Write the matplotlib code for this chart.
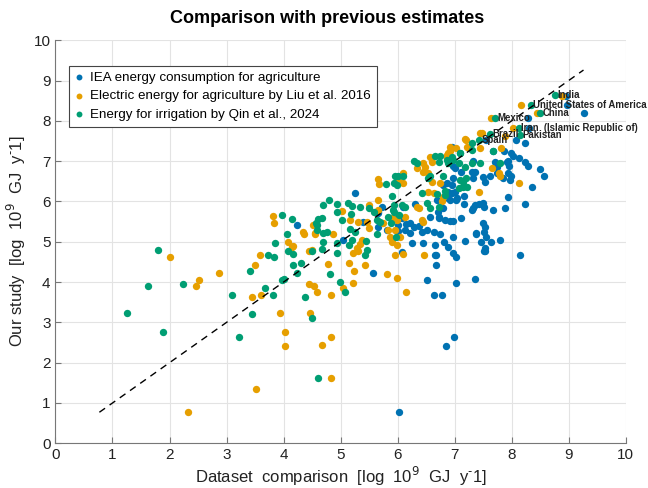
import matplotlib
matplotlib.use("Agg")
import matplotlib.pyplot as plt
import numpy as np

plt.rcParams['font.family'] = ['Liberation Sans', 'DejaVu Sans']

# IEA energy consumption for agriculture (x: dataset, y: our study)
iea_x = [4.24, 5.04, 5.25, 5.73, 5.65, 5.40, 5.56, 6.08, 6.66, 7.03, 7.53, 6.68, 6.52, 7.02,
         7.35, 6.64, 6.77, 6.99, 6.85, 8.14, 6.02, 6.95, 7.01, 6.98, 6.86, 6.95, 6.89, 7.01,
         7.04, 6.89, 6.69, 6.80, 6.73, 6.83, 6.92, 6.98, 7.12, 6.57, 6.22, 6.13, 6.28, 6.42,
         6.22, 6.51, 6.63, 6.75, 6.98, 6.45, 6.66, 6.89, 6.98, 7.38, 7.54, 7.52, 7.55, 7.68,
         7.89, 7.54, 7.80, 7.36, 7.33, 7.12, 7.30, 7.54, 7.62, 7.71, 7.74, 7.91, 7.96, 7.75,
         7.94, 7.97, 7.68, 7.55, 7.86, 7.99, 8.03, 8.12, 7.93, 8.24, 8.29, 8.50, 8.57, 7.99,
         7.85, 7.50, 8.35, 8.23, 7.94, 7.50, 7.17, 7.33, 7.17, 7.30, 7.42, 7.52, 7.49, 7.37,
         7.18, 7.46, 7.64, 7.52, 6.82, 6.67, 6.25, 6.38, 6.72, 6.71, 6.15, 5.81, 6.00, 6.00,
         5.65, 6.10, 6.30, 6.07, 5.96, 5.66, 6.80, 6.95, 6.91, 7.02, 6.98, 7.33, 7.36, 8.24,
         8.08, 8.28, 8.97, 9.26, 8.95, 8.30]
iea_y = [5.41, 5.04, 6.20, 5.87, 5.74, 5.50, 4.22, 4.75, 4.68, 4.62, 4.76, 4.42, 4.04, 3.98,
         4.08, 3.67, 3.67, 2.63, 2.41, 4.68, 0.77, 7.36, 6.82, 6.57, 6.45, 6.41, 6.24, 6.24,
         6.08, 6.08, 6.04, 5.83, 5.61, 5.54, 5.52, 5.52, 5.58, 5.61, 5.46, 5.29, 5.37, 5.25,
         5.21, 5.28, 5.25, 5.19, 5.13, 4.96, 4.92, 4.88, 4.71, 5.21, 5.37, 5.25, 5.13, 5.79,
         5.83, 4.84, 5.04, 5.91, 5.83, 6.74, 6.72, 6.49, 6.62, 6.99, 6.86, 6.99, 6.88, 6.70,
         6.70, 6.53, 7.24, 7.53, 7.26, 7.21, 7.13, 7.07, 7.01, 6.97, 6.88, 6.80, 6.63, 6.63,
         6.57, 6.60, 6.37, 5.94, 6.12, 5.96, 6.14, 7.01, 5.94, 5.79, 5.94, 5.85, 5.46, 5.19,
         5.03, 5.00, 5.00, 4.78, 5.00, 4.67, 4.96, 5.39, 5.58, 5.75, 5.44, 5.29, 5.42, 5.27,
         5.37, 5.86, 5.93, 5.58, 5.56, 5.72, 6.41, 6.20, 6.04, 6.04, 6.88, 6.58, 6.74, 7.46,
         7.53, 8.06, 8.39, 8.19, 8.62, 7.82]

# Electric energy for agriculture by Liu et al. 2016
liu_x = [2.00, 2.52, 2.46, 2.87, 3.45, 3.61, 3.50, 3.59, 3.82, 3.84, 3.94, 4.07, 4.15, 4.34,
         4.36, 4.45, 4.44, 4.54, 4.59, 4.46, 4.51, 4.56, 4.78, 4.84, 4.86, 5.03, 5.05, 5.14,
         2.32, 3.51, 4.02, 4.03, 4.68, 4.84, 4.83, 5.23, 5.22, 5.42, 5.82, 5.99, 5.21, 5.31,
         4.16, 4.55, 4.50, 5.16, 5.30, 5.49, 5.47, 5.34, 5.28, 5.38, 5.65, 5.67, 5.65, 5.66,
         5.87, 5.84, 5.99, 5.99, 5.49, 5.75, 5.96, 6.10, 6.46, 6.15, 6.10, 6.01, 6.09, 6.34,
         6.45, 6.48, 6.44, 6.54, 6.60, 6.57, 6.86, 6.87, 6.89, 6.92, 6.60, 6.75, 6.63, 6.80,
         6.78, 6.54, 6.34, 6.37, 6.42, 6.45, 6.13, 5.90, 5.96, 6.04, 5.90, 7.42, 7.21, 7.18,
         6.91, 7.79, 7.77, 8.12, 7.45, 7.03, 7.45, 7.81, 7.65, 8.17, 8.44, 7.64, 7.48, 7.89,
         7.20, 8.88, 8.02]
liu_y = [4.62, 4.04, 3.90, 4.23, 3.63, 3.67, 4.42, 4.67, 5.64, 5.46, 3.24, 5.00, 4.88, 5.25,
         5.19, 4.78, 3.96, 3.89, 3.75, 3.23, 5.42, 5.21, 4.45, 3.68, 5.19, 5.76, 3.86, 4.48,
         0.77, 1.35, 2.75, 2.41, 2.45, 2.63, 1.62, 4.28, 3.98, 4.42, 4.20, 4.10, 4.73, 4.78,
         4.90, 5.19, 4.80, 5.54, 5.50, 5.91, 5.50, 4.95, 4.84, 5.04, 6.55, 6.43, 6.04, 5.79,
         5.13, 5.29, 5.54, 4.92, 5.33, 5.46, 4.66, 4.69, 4.68, 3.75, 6.45, 6.53, 6.70, 6.82,
         6.95, 6.86, 6.74, 6.70, 6.99, 7.11, 7.07, 7.15, 7.21, 7.24, 6.49, 6.45, 6.20, 6.12,
         6.00, 6.24, 5.87, 5.83, 5.54, 5.50, 5.61, 5.58, 5.29, 5.13, 5.00, 6.24, 7.36, 7.54,
         7.35, 6.63, 6.70, 6.45, 7.71, 7.32, 7.32, 7.32, 6.82, 8.39, 8.19, 8.06, 7.69, 7.62,
         7.53, 8.62, 7.82]

# Energy for irrigation by Qin et al., 2024
qin_x = [1.25, 1.89, 3.21, 3.45, 4.50, 4.61, 1.79, 1.63, 2.24, 3.09, 3.42, 3.68, 3.82, 3.73,
         3.83, 3.85, 3.97, 4.06, 4.07, 4.15, 4.17, 4.17, 3.97, 4.00, 4.24, 4.31, 4.38, 4.50,
         4.57, 4.68, 4.70, 4.80, 4.69, 4.68, 4.81, 4.93, 4.94, 4.94, 5.03, 4.99, 5.08, 5.13,
         4.94, 4.59, 4.69, 5.43, 4.60, 4.58, 4.76, 5.20, 5.18, 5.34, 5.49, 5.59, 5.64, 5.17,
         5.25, 5.20, 5.14, 5.45, 5.47, 5.64, 5.69, 5.84, 5.92, 5.80, 5.96, 5.99, 5.88, 5.97,
         6.00, 6.10, 5.94, 5.90, 5.93, 6.07, 6.13, 6.03, 5.93, 6.28, 6.34, 6.66, 6.75, 6.73,
         6.89, 6.98, 7.10, 7.07, 7.30, 7.45, 7.18, 6.80, 6.57, 6.54, 7.10, 7.15, 7.14, 7.20,
         6.42, 6.69, 6.83, 6.51, 6.57, 6.72, 6.83, 7.07, 7.22, 7.30, 7.30, 6.95, 7.68, 7.79,
         7.10, 6.86, 8.76, 8.34, 8.50, 7.71, 8.12, 7.62, 8.15, 7.43]
qin_y = [3.23, 2.75, 2.63, 3.22, 3.11, 1.62, 4.80, 3.89, 3.96, 3.67, 4.27, 3.85, 3.67, 4.66,
         4.63, 4.97, 5.66, 5.18, 4.78, 5.57, 4.69, 4.42, 4.05, 4.08, 4.23, 4.48, 3.62, 4.78,
         5.46, 5.58, 5.91, 6.04, 5.00, 4.82, 4.20, 4.73, 5.94, 5.73, 5.53, 3.99, 3.76, 5.96,
         4.97, 5.41, 5.22, 4.68, 5.57, 5.28, 5.24, 5.89, 5.69, 5.86, 5.83, 5.75, 5.54, 5.32,
         5.23, 5.04, 4.92, 5.03, 4.80, 5.19, 5.50, 5.62, 5.79, 6.43, 6.63, 6.41, 5.46, 5.13,
         6.64, 6.62, 6.45, 6.14, 5.91, 5.91, 5.87, 5.66, 5.75, 7.00, 6.95, 7.13, 7.13, 6.99,
         6.96, 7.03, 7.20, 6.96, 6.95, 6.95, 6.86, 6.62, 6.63, 6.57, 6.53, 6.49, 6.37, 6.57,
         6.20, 6.19, 6.27, 5.96, 5.83, 5.87, 6.16, 6.33, 6.37, 7.44, 7.28, 7.11, 7.24, 6.95,
         7.21, 7.03, 8.63, 8.39, 8.19, 8.06, 7.82, 7.67, 7.65, 7.52]

# labelled countries (the last eight Qin points)
countries = ["India", "United States of America", "China", "Mexico",
             "Iran  (Islamic Republic of)", "Brazil", "Pakistan", "Spain"]
country_idx = list(range(len(qin_x) - 8, len(qin_x)))

fig = plt.figure(figsize=(6.48, 4.88), dpi=100)
ax = fig.add_axes([0.0856, 0.0916, 0.880, 0.826])

ax.scatter(iea_x, iea_y, s=28, color="#0072B2", linewidths=0, zorder=3,
           label="IEA energy consumption for agriculture")
ax.scatter(liu_x, liu_y, s=28, color="#E69F00", linewidths=0, zorder=3,
           label="Electric energy for agriculture by Liu et al. 2016")
ax.scatter(qin_x, qin_y, s=28, color="#009E73", linewidths=0, zorder=3,
           label="Energy for irrigation by Qin et al., 2024")

# 1:1 line spanning the data
all_vals = np.concatenate([iea_x, iea_y, liu_x, liu_y, qin_x, qin_y])
lo, hi = all_vals.min(), all_vals.max()
ax.plot([lo, hi], [lo, hi], color="black", linestyle=(0, (5, 4)), linewidth=1, zorder=4)

for name, i in zip(countries, country_idx):
    ax.annotate(name, (qin_x[i], qin_y[i]), xytext=(1.5, 0), textcoords="offset points",
                ha="left", va="center", fontsize=6.9, fontweight="bold", color="#222222",
                zorder=5, annotation_clip=False)

ax.set_xlim(0, 10)
ax.set_ylim(0, 10)
ax.set_xticks(range(0, 11))
ax.set_yticks(range(0, 11))
ax.grid(True, color="#e3e3e3", linewidth=0.8)
ax.set_axisbelow(True)
for side in ["top", "right"]:
    ax.spines[side].set_visible(False)
for side in ["left", "bottom"]:
    ax.spines[side].set_color("#777777")
    ax.spines[side].set_linewidth(0.8)
ax.tick_params(direction="in", length=4, width=0.8, color="#777777",
               labelsize=11, labelcolor="#222222")

unit = "[log  10$^{9}$  GJ  y$^{\\text{-}}$1]"
ax.set_xlabel("Dataset  comparison  " + unit, fontsize=12, color="#222222", labelpad=2)
ax.set_ylabel("Our study  " + unit, fontsize=12, color="#222222", labelpad=4)
fig.text(0.505, 0.962, "Comparison with previous estimates", fontsize=13,
         fontweight="bold", ha="center", va="center")

leg = ax.legend(loc="upper left", bbox_to_anchor=(0.024, 0.937), borderaxespad=0,
                fontsize=9.6, handlelength=0.6, handletextpad=0.5, borderpad=0.45,
                labelspacing=0.45, fancybox=False, framealpha=1, scatterpoints=1,
                markerscale=0.8)
leg.get_frame().set_edgecolor("#444444")
leg.get_frame().set_linewidth(0.8)

fig.savefig("out.png", dpi=100)
